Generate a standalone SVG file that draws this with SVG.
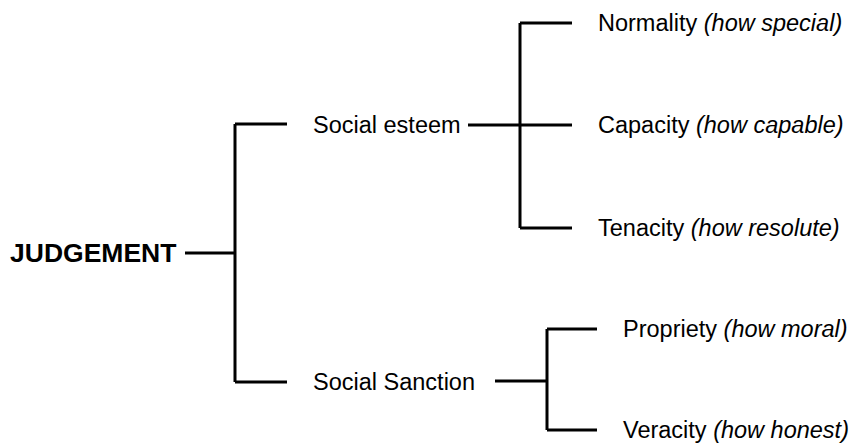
<svg xmlns="http://www.w3.org/2000/svg" width="852" height="443" viewBox="0 0 852 443">
<style>
text{font-family:"Liberation Sans",Arial,sans-serif;font-size:23.5px;fill:#000}
.b{font-weight:bold;font-size:26.5px}
.i{font-style:italic}
.c{stroke:#000;stroke-width:3;fill:none;stroke-linecap:butt}
</style>
<rect width="852" height="443" fill="#fff"/>
<g id="connectors">
<path class="c" d="M185 253H235M235 124V382M235 124H287M235 382H287"/>
<path class="c" d="M468 125H572M520 23V228M520 23H572M520 228H572"/>
<path class="c" d="M495 381H547M547 329V430M547 329H597M547 430H597"/>
</g>
<g id="judgement"><text class="b" x="10" y="262">JUDGEMENT</text></g>
<g id="social-esteem"><text x="313" y="133">Social esteem</text></g>
<g id="social-sanction"><text x="313" y="390">Social Sanction</text></g>
<g id="normality"><text x="598" y="31">Normality <tspan class="i">(how special)</tspan></text></g>
<g id="capacity"><text x="598" y="133">Capacity <tspan class="i">(how capable)</tspan></text></g>
<g id="tenacity"><text x="598" y="236">Tenacity <tspan class="i">(how resolute)</tspan></text></g>
<g id="propriety"><text x="623" y="337">Propriety <tspan class="i">(how moral)</tspan></text></g>
<g id="veracity"><text x="623" y="438">Veracity <tspan class="i">(how honest)</tspan></text></g>
</svg>
